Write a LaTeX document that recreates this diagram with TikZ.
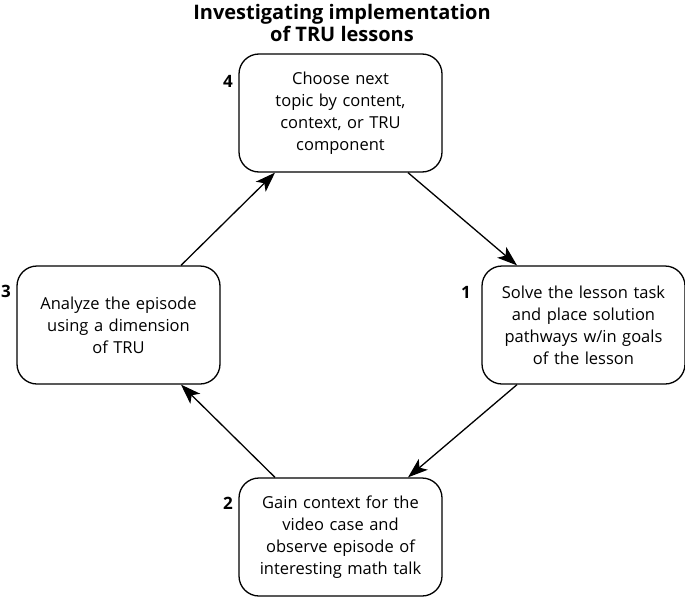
\documentclass[tikz,border=0pt]{standalone}
\usepackage{fontspec}
\setmainfont{Open Sans}
\usetikzlibrary{arrows.meta,calc}
\begin{document}
\begin{tikzpicture}[x=1pt,y=-1pt,
  box/.style={draw, line width=1.3pt, rounded corners=20pt, minimum width=203pt, minimum height=118pt, inner sep=0pt, align=center, font=\fontsize{16.5}{22}\selectfont, text width=200pt},
  num/.style={font=\bfseries\fontsize{17}{20}\selectfont, inner sep=0pt},
  arr/.style={line width=1.3pt, -{Stealth[length=20pt,width=14pt,inset=5pt]}}]
\useasboundingbox (0,0) rectangle (685,597);
\node[font=\bfseries\fontsize{20}{22.5}\selectfont, align=center, inner sep=0pt] (title) at (342,23) {Investigating implementation\\of TRU lessons};
\node[box] (b4) at (340.5,113) {Choose next\\topic by content,\\context, or TRU\\component};
\node[box] (b3) at (118.5,325) {Analyze the episode\\using a dimension\\of TRU};
\node[box] (b1) at (583.5,325) {Solve the lesson task\\and place solution\\pathways w/in goals\\of the lesson};
\node[box] (b2) at (340.5,537) {Gain context for the\\video case and\\observe episode of\\interesting math talk};
\node[num] (n4) at (228,81) {4};
\node[num] (n3) at (6,291) {3};
\node[num] (n1) at (466,292) {1};
\node[num] (n2) at (228,503) {2};
\draw[arr] ($(b4.south)+(67.5,0)$) -- ($(b1.north)+(-66.5,0)$);
\draw[arr] ($(b1.south)+(-66.5,0)$) -- ($(b2.north)+(67.5,0)$);
\draw[arr] ($(b2.north)+(-65.5,0)$) -- ($(b3.south)+(62.5,0)$);
\draw[arr] ($(b3.north)+(62.5,0)$) -- ($(b4.south)+(-65.5,0)$);
\end{tikzpicture}
\end{document}
